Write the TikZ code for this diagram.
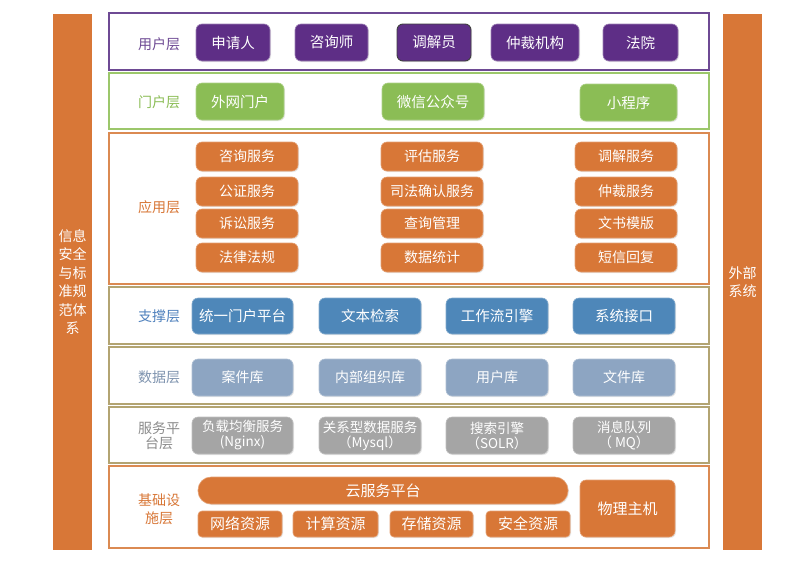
\documentclass[tikz,border=0pt]{standalone}
\usepackage{fontspec}
\setmainfont{Noto Sans CJK SC}
\usetikzlibrary{shadows}
\definecolor{cpurple}{HTML}{5E2E86}
\definecolor{cpurpleL}{HTML}{6E4A94}
\definecolor{cgreen}{HTML}{8BBD55}
\definecolor{cgreenL}{HTML}{9CC76B}
\definecolor{corange}{HTML}{D87737}
\definecolor{corangeL}{HTML}{DB8A52}
\definecolor{cblue}{HTML}{4E87B9}
\definecolor{cblueL}{HTML}{4F81BD}
\definecolor{cdata}{HTML}{8DA5C2}
\definecolor{cgrey}{HTML}{A5A5A5}
\definecolor{cgreyL}{HTML}{8C8C8C}
\definecolor{ctan}{HTML}{B3A472}
\tikzset{
  box/.style={rounded corners=6pt, text=white, inner sep=0pt, align=center,
    drop shadow={opacity=0.18, shadow xshift=1pt, shadow yshift=-1pt},
    font=\fontsize{14}{16}\selectfont},
  ubox/.style={box, fill=cpurple, draw=cpurple!60!white, line width=0.6pt, minimum height=37pt, font=\fontsize{14.5}{16}\selectfont},
  pbox/.style={box, fill=cgreen, draw=cgreen!70!white, line width=0.6pt, minimum height=37pt, font=\fontsize{14.5}{16}\selectfont},
  abox/.style={box, fill=corange, draw=corange!70!white, line width=0.6pt, minimum height=29pt, minimum width=102pt},
  sbox/.style={box, fill=cblue, draw=cblue!70!white, line width=0.6pt, minimum height=36pt, minimum width=102pt, font=\fontsize{14.5}{16}\selectfont},
  dbox/.style={box, fill=cdata, draw=cdata!70!white, line width=0.6pt, minimum height=37pt, minimum width=102pt},
  gbox/.style={box, fill=cgrey, draw=cgrey!70!white, line width=0.6pt, minimum height=37pt, minimum width=102pt, font=\fontsize{13.5}{15}\selectfont},
  ibox/.style={box, fill=corange, draw=corange!70!white, line width=0.6pt, rounded corners=4pt, font=\fontsize{15}{16}\selectfont},
  layer/.style={rectangle, fill=white, line width=1.4pt, minimum width=600pt, inner sep=0pt},
  lab/.style={font=\fontsize{14}{15}\selectfont, align=center, inner sep=0pt},
  side/.style={rectangle, fill=corange, minimum width=39pt, minimum height=536pt, inner sep=0pt,
    text=white, align=center, font=\fontsize{14}{18.5}\selectfont}
}
\begin{document}
\begin{tikzpicture}[x=1pt,y=-1pt]
\useasboundingbox[fill=white] (0,0) rectangle (800,568);
% side bars
\node[side] (left) at (72.5,282) {信息\\安全\\与标\\准规\\范体\\系};
\node[side] (right) at (742.5,282) {外部\\系统};
% layers
\node[layer, draw=cpurpleL, minimum height=57pt] (L1) at (409,41.5) {};
\node[layer, draw=cgreenL, minimum height=56pt] (L2) at (409,101) {};
\node[layer, draw=corangeL, minimum height=151pt] (L3) at (409,208.5) {};
\node[layer, draw=ctan, minimum height=57pt] (L4) at (409,315.5) {};
\node[layer, draw=ctan, minimum height=57pt] (L5) at (409,375.5) {};
\node[layer, draw=ctan, minimum height=56pt] (L6) at (409,435) {};
\node[layer, draw=corangeL, minimum height=82pt] (L7) at (409,507) {};
% labels
\node[lab, text=cpurpleL] (t1) at (159,44) {用户层};
\node[lab, text=cgreen] (t2) at (159,102) {门户层};
\node[lab, text=corange] (t3) at (159,207) {应用层};
\node[lab, text=cblueL] (t4) at (159,316) {支撑层};
\node[lab, text=cdata!90!black] (t5) at (159,377) {数据层};
\node[lab, text=cgreyL, font=\fontsize{14}{15.5}\selectfont] (t6) at (159,435.5) {服务平\\台层};
\node[lab, text=corange, font=\fontsize{14}{18}\selectfont] (t7) at (159,509) {基础设\\施层};
% user layer
\node[ubox, minimum width=74pt] (u1) at (233,42.5) {申请人};
\node[ubox, minimum width=73pt] (u2) at (331.5,42.5) {咨询师};
\node[ubox, minimum width=74pt, draw=black!75, line width=0.9pt] (u3) at (434,42.5) {调解员};
\node[ubox, minimum width=88pt] (u4) at (535,42.5) {仲裁机构};
\node[ubox, minimum width=75pt] (u5) at (640.5,42.5) {法院};
% portal layer
\node[pbox, minimum width=88pt] (p1) at (240,101.5) {外网门户};
\node[pbox, minimum width=102pt] (p2) at (433,101.5) {微信公众号};
\node[pbox, minimum width=97pt] (p3) at (628.5,102.5) {小程序};
% application layer
\node[abox] (a11) at (247,156.5) {咨询服务};
\node[abox] (a12) at (247,191.5) {公证服务};
\node[abox] (a13) at (247,223.5) {诉讼服务};
\node[abox] (a14) at (247,257.5) {法律法规};
\node[abox] (a21) at (432,156.5) {评估服务};
\node[abox] (a22) at (432,191.5) {司法确认服务};
\node[abox] (a23) at (432,223.5) {查询管理};
\node[abox] (a24) at (432,257.5) {数据统计};
\node[abox] (a31) at (626,156.5) {调解服务};
\node[abox] (a32) at (626,191.5) {仲裁服务};
\node[abox] (a33) at (626,223.5) {文书模版};
\node[abox] (a34) at (626,257.5) {短信回复};
% support layer
\node[sbox, minimum width=101pt] (s1) at (242.5,316) {统一门户平台};
\node[sbox] (s2) at (370,316) {文本检索};
\node[sbox] (s3) at (497,316) {工作流引擎};
\node[sbox] (s4) at (624,316) {系统接口};
% data layer
\node[dbox, minimum width=101pt] (d1) at (242.5,377.5) {案件库};
\node[dbox] (d2) at (370,377.5) {内部组织库};
\node[dbox] (d3) at (497,377.5) {用户库};
\node[dbox] (d4) at (624,377.5) {文件库};
% service platform
\node[gbox, minimum width=101pt] (g1) at (242.5,435.5) {负载均衡服务\\(Nginx)};
\node[gbox] (g2) at (370,435.5) {关系型数据服务\\（Mysql）};
\node[gbox] (g3) at (497,435.5) {搜索引擎\\（SOLR）};
\node[gbox] (g4) at (624,435.5) {消息队列\\（ MQ）};
% infrastructure
\node[ibox, rounded corners=13pt, minimum width=370pt, minimum height=27pt] (cloud) at (383,490.5) {云服务平台};
\node[ibox, minimum width=84pt, minimum height=26pt] (r1) at (240,524) {网络资源};
\node[ibox, minimum width=85pt, minimum height=26pt] (r2) at (335.5,524) {计算资源};
\node[ibox, minimum width=83pt, minimum height=26pt] (r3) at (431.5,524) {存储资源};
\node[ibox, minimum width=84pt, minimum height=26pt] (r4) at (528,524) {安全资源};
\node[ibox, rounded corners=6pt, minimum width=95pt, minimum height=57pt] (host) at (627.5,508.5) {物理主机};
\end{tikzpicture}
\end{document}
